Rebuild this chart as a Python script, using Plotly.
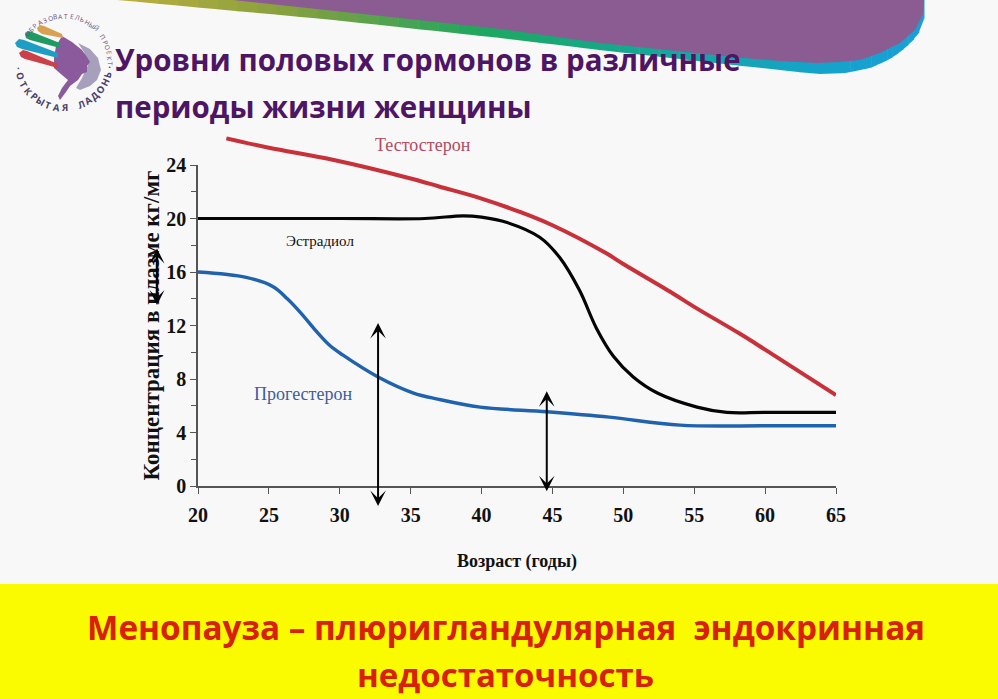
import numpy as np
import plotly.graph_objects as go

# chart data
age_testo = [22, 25, 29.5, 35, 37, 40, 42.7, 45, 48.8, 50, 53.5, 55, 58.2, 60, 65]
testosterone = [26, 25.3, 24.4, 23.0, 22.4, 21.5, 20.5, 19.5, 17.4, 16.6, 14.4, 13.4, 11.4, 10.2, 6.8]

age_estr = [20, 30, 36, 38.7, 40, 41.8, 44.1, 45.5, 46.9, 48.1, 49.3, 50.7, 52.4, 55.2, 57.3, 60, 65]
estradiol = [20, 20, 20, 20.2, 20.1, 19.7, 18.6, 17.1, 14.65, 11.8, 9.7, 8.15, 6.95, 5.9, 5.5, 5.5, 5.5]

age_prog = [20, 23.4, 25.3, 26.3, 27.2, 28.4, 29.3, 30.2, 32.7, 35.2, 36.9, 39.9, 44.6, 49, 54, 60, 65]
progesterone = [16, 15.6, 14.9, 14.0, 13.0, 11.5, 10.5, 9.8, 8.15, 6.95, 6.5, 5.9, 5.55, 5.15, 4.55, 4.5, 4.5]

x_ticks = [20, 25, 30, 35, 40, 45, 50, 55, 60, 65]
y_ticks = [0, 4, 8, 12, 16, 20, 24]

W, H = 998, 699
SERIF = "Liberation Serif"
SANS = "Open Sans"


def px(x):
    return x / W


def py(y):
    return 1 - y / H


def poly(points):
    return "M " + " L ".join(f"{px(x):.5f},{py(y):.5f}" for x, y in points) + " Z"


def area(points, color, line=None):
    return dict(type="path", xref="paper", yref="paper", path=poly(points),
                fillcolor=color, line=dict(width=0 if line is None else 1, color=line),
                layer="below")


fig = go.Figure()
# red curve runs above the 24 tick, so it sits on its own hidden, taller y axis
fig.add_trace(go.Scatter(x=age_testo, y=testosterone, mode="lines", yaxis="y2",
                         line=dict(color="#c8303a", width=4, shape="spline", smoothing=1),
                         name="Тестостерон"))
fig.add_trace(go.Scatter(x=age_estr, y=estradiol, mode="lines",
                         line=dict(color="#050505", width=3.2, shape="spline", smoothing=1),
                         name="Эстрадиол"))
fig.add_trace(go.Scatter(x=age_prog, y=progesterone, mode="lines",
                         line=dict(color="#1f62ad", width=3.4, shape="spline", smoothing=1),
                         name="Прогестерон"))

shapes = [
    dict(type="rect", xref="paper", yref="paper", x0=0, x1=1, y0=0, y1=py(584),
         fillcolor="#fbfb00", line=dict(width=0), layer="below"),
]

# banner at the top: gradient strip under the purple wave
edge_x = [117, 333, 500, 600, 733, 817, 845, 870, 890, 905, 916, 922, 924]
edge_y = [0, 20, 38, 50, 65, 74, 73, 68, 59, 48, 37, 27, 18]
strip_x = [117, 300, 480, 650, 800, 924]
strip_rgb = [[190, 175, 60], [130, 160, 65], [30, 168, 95], [20, 168, 150], [20, 165, 200], [25, 160, 215]]
cuts = np.concatenate([np.linspace(117, 840, 37), np.linspace(845, 924, 16)])
for a, b in zip(cuts[:-1], cuts[1:]):
    rgb = [int(np.interp((a + b) / 2, strip_x, [c[i] for c in strip_rgb])) for i in range(3)]
    col = f"rgb({rgb[0]},{rgb[1]},{rgb[2]})"
    shapes.append(area([(a, 0), (b + 0.5, 0), (b + 0.5, np.interp(b, edge_x, edge_y)),
                        (a, np.interp(a, edge_x, edge_y))], col))
shapes.append(area([(233, 0), (924, 0), (923, 14), (915, 30), (900, 43), (880, 53), (860, 60),
                    (840, 62), (817, 63), (780, 61), (733, 57), (600, 43), (500, 29), (400, 18)],
                   "#8a5c92"))

# logo
shapes.append(area([(78, 43), (90, 49), (98, 58), (101, 70), (97, 80), (90, 86), (80, 90), (76, 88),
                    (82, 78), (88, 65), (84, 52)], "#a7a0bd"))
shapes.append(area([(62, 36), (72, 42), (82, 50), (87, 57), (90, 62), (87, 66), (87, 72), (82, 74),
                    (78, 80), (70, 86), (66, 92), (60, 100), (58, 96), (62, 88), (68, 80), (62, 75),
                    (54, 68), (54, 58), (56, 46)], "#8b5a9c"))
shapes.append(area([(40, 25), (44, 26), (62, 34), (63, 38), (42, 34), (38, 31), (37, 28)], "#d9a050"))
shapes.append(area([(28, 31), (32, 32), (60, 43), (60, 48), (30, 40), (26, 38), (25, 34)], "#1f9a62"))
shapes.append(area([(19, 39), (24, 40), (58, 53), (58, 58), (22, 49), (17, 47), (15, 43)], "#1f9ec4"))
shapes.append(area([(23, 50), (27, 51), (58, 64), (58, 68), (25, 59), (21, 57), (19, 53)], "#cc4148"))

annotations = [
    dict(x=px(113), y=py(60), text="Уровни половых гормонов в различные", xanchor="left",
         font=dict(family=SANS, size=29.5, color="#4d1563", weight="bold")),
    dict(x=px(113), y=py(106), text="периоды жизни женщины", xanchor="left",
         font=dict(family=SANS, size=29.5, color="#4d1563", weight="bold")),
    dict(x=px(506), y=py(627), text="Менопауза – плюригландулярная  эндокринная",
         font=dict(family=SANS, size=33.3, color="#d8200a", weight="bold")),
    dict(x=px(506), y=py(674), text="недостаточность",
         font=dict(family=SANS, size=33, color="#d8200a", weight="bold")),
]
for a in annotations:
    a.update(xref="paper", yref="paper", showarrow=False, yanchor="middle")
    a.setdefault("xanchor", "center")

# series labels
for x, y, yref, label, col, size in [(35.9, 25.5, "y2", "Тестостерон", "#b24a62", 18),
                                     (28.6, 18.3, "y", "Эстрадиол", "#111111", 15),
                                     (27.4, 6.9, "y", "Прогестерон", "#3d5c9c", 18)]:
    annotations.append(dict(x=x, y=y, yref=yref, text=label, showarrow=False,
                            font=dict(family=SERIF, size=size, color=col)))

# double arrows
for x, y0, y1 in [(32.7, 12.3, -1.5), (44.6, 7.2, -0.4)]:
    annotations.append(dict(x=x, y=y1, ax=x, ay=y0, axref="x", ayref="y", text="", showarrow=True,
                            arrowhead=3, arrowside="end+start", arrowwidth=2, arrowsize=1.3,
                            arrowcolor="#050505"))
annotations.append(dict(x=px(157), y=py(305), ax=0, ay=-58, xref="paper", yref="paper",
                        axref="pixel", ayref="pixel", text="", showarrow=True, arrowhead=3,
                        arrowside="end+start", arrowwidth=2.5, arrowsize=1, arrowcolor="#050505"))

# text round the logo
cx, cy, r = 64, 62, 46
top_text = "ОБРАЗОВАТЕЛЬНЫЙ ПРОЕКТ"
for i, ch in enumerate(top_text):
    t = np.radians(np.linspace(-52, 92, len(top_text))[i])
    annotations.append(dict(x=px(cx + r * np.sin(t)), y=py(cy - r * np.cos(t)), text=ch, xref="paper",
                            yref="paper", showarrow=False, textangle=float(np.degrees(t)),
                            xanchor="center", yanchor="middle",
                            font=dict(family=SANS, size=6.5, color="#5c4a78")))
bottom_text = "·ОТКРЫТАЯ ЛАДОНЬ·"
for i, ch in enumerate(bottom_text):
    t = np.radians(np.linspace(-82, 84, len(bottom_text))[i])
    annotations.append(dict(x=px(cx + r * np.sin(t)), y=py(cy + r * np.cos(t)), text=ch, xref="paper",
                            yref="paper", showarrow=False, textangle=float(-np.degrees(t)),
                            xanchor="center", yanchor="middle",
                            font=dict(family=SANS, size=9.5, color="#4a4068", weight="bold")))

axis_font = dict(family=SERIF, size=20, color="#111111", weight="bold")
fig.update_layout(
    width=W, height=H, margin=dict(l=0, r=0, t=0, b=0), showlegend=False,
    paper_bgcolor="#f8f8f8", plot_bgcolor="rgba(0,0,0,0)",
    shapes=shapes, annotations=annotations,
    yaxis2=dict(domain=[py(486), py(125)], range=[0, 27], visible=False, anchor="x"),
)
fig.update_xaxes(domain=[px(198), px(836)], range=[20, 65], tickvals=x_ticks, showgrid=False,
                 zeroline=False, showline=True, linecolor="#555555", linewidth=1.5, ticks="outside",
                 ticklen=6, tickcolor="#555555", tickfont=axis_font, ticklabelstandoff=4,
                 automargin=False,
                 title=dict(text="Возраст (годы)", standoff=30,
                            font=dict(family=SERIF, size=18, color="#111111", weight="bold")))
fig.update_layout(yaxis=dict(domain=[py(486), py(165)], range=[0, 24], tickvals=y_ticks, showgrid=False,
                             zeroline=False, showline=True, linecolor="#555555", linewidth=1.5,
                             ticks="outside", ticklen=6, tickcolor="#555555", tickfont=axis_font,
                             automargin=False,
                             minor=dict(tickvals=[2, 6, 10, 14, 18, 22], ticks="outside", ticklen=5,
                                        tickcolor="#555555"),
                             title=dict(text="Концентрация в плазме кг/мг", standoff=0,
                                        font=dict(family=SERIF, size=23, color="#111111", weight="bold"))))

fig.write_html("out.html", config=dict(displayModeBar=False),
               post_script="document.body.style.margin='0';")
